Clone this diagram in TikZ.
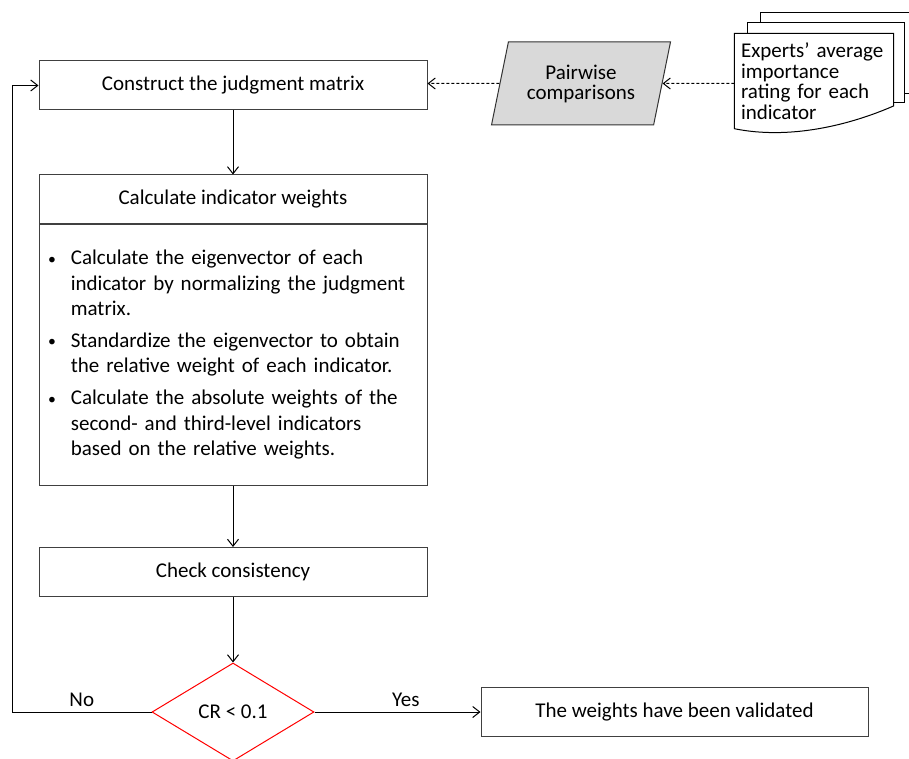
\documentclass[tikz,border=0pt]{standalone}
\usepackage{fontspec}
\setmainfont{Carlito}
\usepackage{tikz}
\usetikzlibrary{shapes,arrows.meta,positioning,calc}

\newcommand{\smallbullet}{\raisebox{0.5pt}{\scalebox{0.75}{\textbullet}}}

\begin{document}
\begin{tikzpicture}[
  x=1pt, y=-1pt,
  font=\fontsize{21}{25.6}\selectfont,
  box/.style      = {draw=black!75, line width=1pt, fill=white,
                     minimum width=388pt, minimum height=49pt,
                     inner sep=0pt, align=center},
  decision/.style = {diamond, draw=red, line width=1pt,
                     minimum width=162pt, minimum height=98pt, inner sep=0pt},
  inputdata/.style= {trapezium, trapezium left angle=68, trapezium right angle=112,
                     trapezium stretches body, draw=black!80, fill=black!15,
                     line width=1pt, minimum width=179pt, minimum height=83pt,
                     inner sep=2pt, align=center,
                     font=\fontsize{21}{20}\selectfont},
  sheet/.style    = {draw=black, line width=1pt, fill=white},
  arr/.style      = {-{Straight Barb[length=7pt,width=11pt]}, line width=1pt},
  darr/.style     = {arr, dash pattern=on 3pt off 2pt},
  lbl/.style      = {inner sep=5pt},
]
\useasboundingbox (0,0) rectangle (909,759);

% main column
\node[box] (construct) at (233,85.5) {Construct the judgment matrix};
\node[box] (calchead)  at (233,199.5) {Calculate indicator weights};
\node[box, minimum height=260pt, below=0pt of calchead,
      text width=370pt, inner xsep=9pt, align=left] (calcbody) {%
  \begin{tabular}{@{}l@{\hspace{15pt}}l@{}}
  \smallbullet & Calculate the eigenvector of each\\
               & indicator by normalizing the judgment\\
               & matrix.\\[6pt]
  \smallbullet & Standardize the eigenvector to obtain\\
               & the relative weight of each indicator.\\[6pt]
  \smallbullet & Calculate the absolute weights of the\\
               & second- and third-level indicators\\
               & based on the relative weights.
  \end{tabular}};
\node[box] (check)     at (233,572) {Check consistency};
\node[decision] (crtest) at (233,712) {CR < 0.1};
\node[box, minimum width=387pt] (validated) at (674.5,712) {The weights have been validated};

% inputs
\node[inputdata] (pairwise) at (581,83.5) {Pairwise\\comparisons};
\draw[sheet] (760,13) rectangle (912,94);
\draw[sheet] (747,23) rectangle (904,103);
\node[minimum width=159pt, minimum height=95pt, inner sep=0pt]
      (experts) at (814,81) {};
\draw[sheet] (experts.south west) -- (experts.north west) -- (experts.north east)
  -- (893.5,106) .. controls (850,125) and (790,140) .. (experts.south west) -- cycle;
\node[text width=146pt, align=left, inner sep=0pt,
      font=\fontsize{21}{20.5}\selectfont] at (experts)
  {Experts' average\\importance\\rating for each\\indicator};

% connectors
\draw[arr] (construct) -- (calchead);
\draw[arr] (calcbody) -- (check);
\draw[arr] (check) -- (crtest);
\coordinate (loopcorner) at (12,712);
\draw[arr] (crtest.west) -- node[lbl, above] {No} (loopcorner) |- (construct.west);
\draw[arr] (crtest.east) -- node[lbl, above, pos=0.55] {Yes} (validated.west);
\draw[darr] (pairwise) -- (construct.east |- pairwise);
\draw[darr] (experts.west |- pairwise) -- (pairwise);
\end{tikzpicture}
\end{document}
